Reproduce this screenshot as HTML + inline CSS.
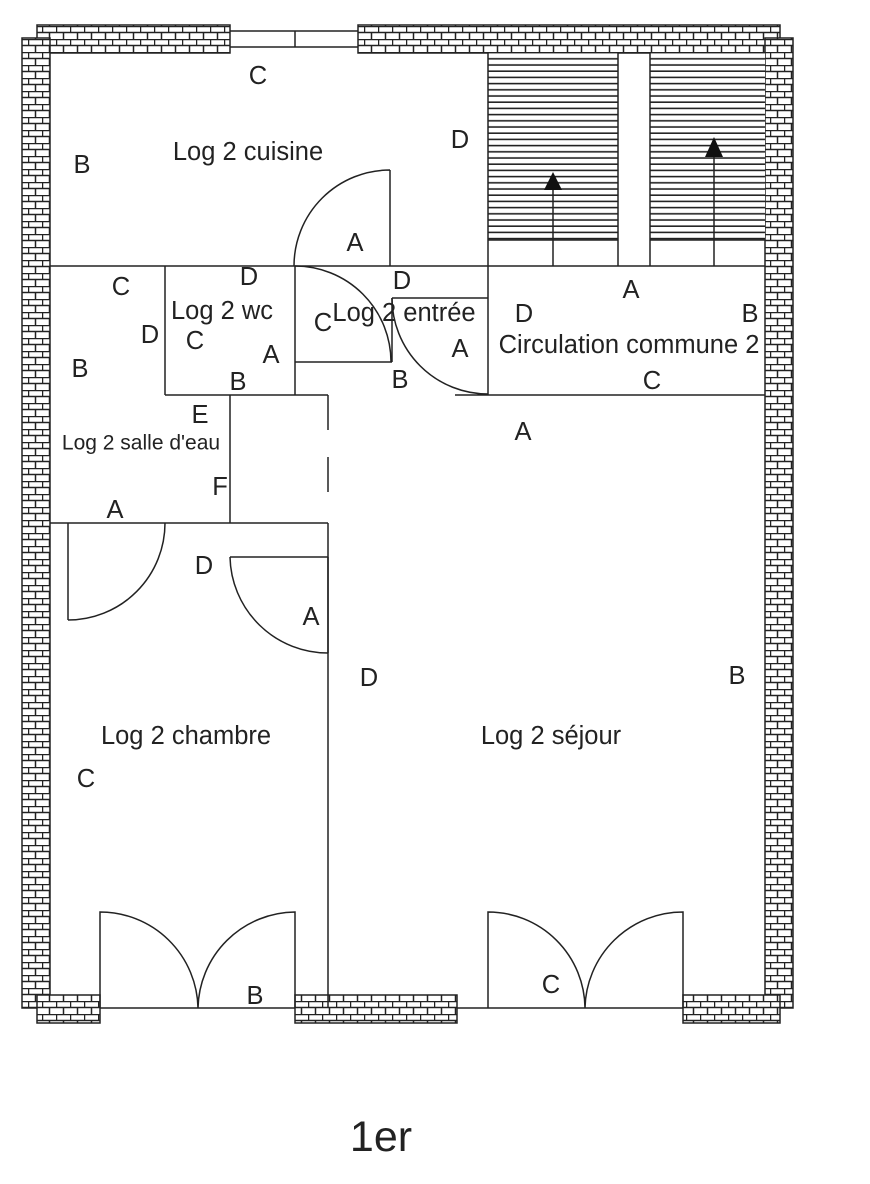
<!DOCTYPE html>
<html><head><meta charset="utf-8"><style>
html,body{margin:0;padding:0;background:#fff;}
svg{display:block;}
text{font-family:"Liberation Sans",sans-serif;font-size:25.5px;fill:#222;text-anchor:middle;dominant-baseline:central;}
</style></head><body>
<svg width="870" height="1184" viewBox="0 0 870 1184" xmlns="http://www.w3.org/2000/svg">
<defs>
<pattern id="brick" width="14" height="13" patternUnits="userSpaceOnUse">
<rect width="14" height="13" fill="#fff"/>
<path d="M0 0.5H14M0 6.5H14M0.5 0V6.5M7.5 6.5V13" stroke="#222" stroke-width="1.5" fill="none"/>
</pattern>
<pattern id="hatch" width="10" height="6.2" patternUnits="userSpaceOnUse">
<rect width="10" height="6.2" fill="#fff"/>
<path d="M0 3H10" stroke="#222" stroke-width="1.6"/>
</pattern>
</defs>
<g stroke="#222" stroke-width="1.5">
<rect x="37" y="25" width="193" height="28" fill="url(#brick)"/>
<rect x="358" y="25" width="422" height="28" fill="url(#brick)"/>
<rect x="22" y="38" width="28" height="970" fill="url(#brick)"/>
<rect x="765" y="38" width="28" height="970" fill="url(#brick)"/>
<rect x="37" y="995" width="63" height="28" fill="url(#brick)"/>
<rect x="295" y="995" width="162" height="28" fill="url(#brick)"/>
<rect x="683" y="995" width="97" height="28" fill="url(#brick)"/>
<path d="M230 31H358M230 47H358M295 31V47" fill="none"/>
<rect x="488" y="53" width="130" height="187" fill="url(#hatch)" stroke="none"/>
<rect x="650" y="53" width="115" height="187" fill="url(#hatch)" stroke="none"/>
<path d="M488 240H618M650 240H765M618 53V266M650 53V266M553 266V185M714 266V152" fill="none"/>
</g>
<polygon points="553,172 544,190 562,190" fill="#111"/>
<polygon points="714,137 705,157 723,157" fill="#111"/>
<g stroke="#222" stroke-width="1.5" fill="none">
<path d="M50 266H765M488 53V395M390 170V266M390 170A96 96 0 0 0 294 266"/>
<path d="M165 266V395M295 266V395M295 362H392M392 298V362M392 298H488"/>
<path d="M295 266A96 96 0 0 1 391 362"/>
<path d="M392 298A96 96 0 0 0 488 394M455 395H488M488 395H765"/>
<path d="M165 395H328M328 395V430M328 457V492M328 523V1008M230 395V523M50 523H328"/>
<path d="M68 523V620M165 523A97 97 0 0 1 68 620"/>
<path d="M230 557H328M230 557A98 98 0 0 0 328 653M328 557V653"/>
<path d="M100 1008H295M100 1008V912A98 98 0 0 1 198 1008M295 1008V912A98 98 0 0 0 198 1008"/>
<path d="M457 1008H683M488 1008V912A97 97 0 0 1 585 1008M683 1008V912A98 98 0 0 0 585 1008"/>
</g>
<text x="258" y="76">C</text>
<text x="248" y="152">Log 2 cuisine</text>
<text x="460" y="140">D</text>
<text x="82" y="165">B</text>
<text x="355" y="243">A</text>
<text x="121" y="287">C</text>
<text x="249" y="277">D</text>
<text x="402" y="281">D</text>
<text x="222" y="311">Log 2 wc</text>
<text x="323" y="323">C</text>
<text x="404" y="313">Log 2 entrée</text>
<text x="524" y="314">D</text>
<text x="631" y="290">A</text>
<text x="750" y="314">B</text>
<text x="629" y="345">Circulation commune 2</text>
<text x="150" y="335">D</text>
<text x="195" y="341">C</text>
<text x="271" y="355">A</text>
<text x="460" y="349">A</text>
<text x="80" y="369">B</text>
<text x="238" y="382">B</text>
<text x="400" y="380">B</text>
<text x="652" y="381">C</text>
<text x="200" y="415">E</text>
<text x="523" y="432">A</text>
<text x="141" y="443" style="font-size:21px">Log 2 salle d'eau</text>
<text x="220" y="487">F</text>
<text x="115" y="510">A</text>
<text x="204" y="566">D</text>
<text x="311" y="617">A</text>
<text x="369" y="678">D</text>
<text x="737" y="676">B</text>
<text x="186" y="736">Log 2 chambre</text>
<text x="551" y="736">Log 2 séjour</text>
<text x="86" y="779">C</text>
<text x="255" y="996">B</text>
<text x="551" y="985">C</text>
<text x="381" y="1137" style="font-size:43px">1er</text>
</svg>
</body></html>
